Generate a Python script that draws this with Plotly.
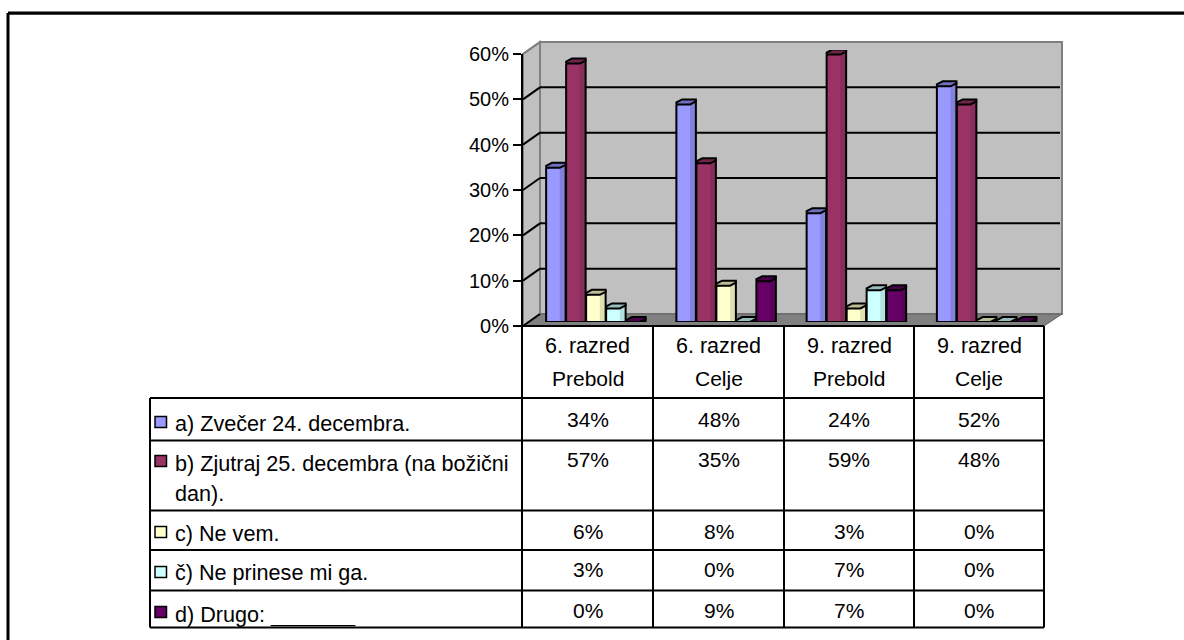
import plotly.graph_objects as go

W, H = 1184, 640
FONT = "Liberation Sans"

categories = [["6. razred", "Prebold"], ["6. razred", "Celje"], ["9. razred", "Prebold"], ["9. razred", "Celje"]]
series_names = [["a) Zvečer 24. decembra."], ["b) Zjutraj 25. decembra (na božični", "dan)."], ["c) Ne vem."], ["č) Ne prinese mi ga."], ["d) Drugo: _______"]]
s_a = [34, 48, 24, 52]
s_b = [57, 35, 59, 48]
s_c = [6, 8, 3, 0]
s_d = [3, 0, 7, 0]
s_e = [0, 9, 7, 0]
all_series = [s_a, s_b, s_c, s_d, s_e]
y_ticks = [0, 10, 20, 30, 40, 50, 60]

front = ["#9999FF", "#993366", "#FFFFCC", "#CCFFFF", "#660066"]
side = ["#8282DC", "#862D59", "#E0E0B3", "#B3E0E0", "#590059"]
cap = ["#7070BC", "#70254B", "#BCBC96", "#96BCBC", "#4B004B"]


def px(x):
    return x / W


def py(y):
    return 1 - y / H


# plane of the bars (pixels)
BX0, BX1, BY0, BY1 = 531, 1052, 322, 50
cat_w = (BX1 - BX0) / 4
pitch = 20 / cat_w
bw = 19.5 / cat_w
dy = 5 / ((BY0 - BY1) / 60)

fig = go.Figure()

# hidden trace so the front axes are built
fig.add_trace(go.Scatter(x=[0], y=[0], xaxis="x2", yaxis="y2", mode="markers",
                         marker=dict(opacity=0), showlegend=False, hoverinfo="skip"))

for k, vals in enumerate(all_series):
    xs = [i + 0.5 + (k - 2.5) * pitch for i in range(4)]
    fig.add_trace(go.Bar(x=xs, y=vals, width=bw, offset=0, showlegend=False,
                         marker=dict(color=front[k], line=dict(width=0))))
    sx, sy, ox, oy, cx, cy = [], [], [], [], [], []
    for x0, v in zip(xs, vals):
        x7, x3, x1 = x0 + 0.7 * bw, x0 + 0.3 * bw, x0 + bw
        sx += [x7, x1, x1, x7, x7, None]
        sy += [v, v + 0.6 * dy, 0, 0, v, None]
        ox += [x0, x0, x1, x1, x0, None]
        oy += [v, 0, 0, v + 0.6 * dy, v, None]
        cx += [x0, x7, x1, x1, x3, x0, x0, None]
        cy += [v, v, v + 0.6 * dy, v + dy, v + dy, v + 0.4 * dy, v, None]
    fig.add_trace(go.Scatter(x=sx, y=sy, mode="lines", fill="toself", fillcolor=side[k],
                             line=dict(width=0), showlegend=False))
    fig.add_trace(go.Scatter(x=ox, y=oy, mode="lines",
                             line=dict(color="black", width=2), showlegend=False))
    fig.add_trace(go.Scatter(x=cx, y=cy, mode="lines", fill="toself", fillcolor=cap[k],
                             line=dict(color="black", width=2), showlegend=False))

shapes = []


def poly(pts, fill, line=None, w=0):
    d = "M " + " L ".join(f"{px(a):.5f},{py(b):.5f}" for a, b in pts) + " Z"
    shapes.append(dict(type="path", path=d, xref="paper", yref="paper", layer="below",
                       fillcolor=fill, line=dict(color=line or fill, width=w)))


def seg(x0, y0, x1, y1, color="black", w=2):
    shapes.append(dict(type="line", xref="paper", yref="paper", layer="below",
                       x0=px(x0), y0=py(y0), x1=px(x1), y1=py(y1), line=dict(color=color, width=w)))


# outer frame (the top rule runs off the right edge, there is no right border)
seg(8, 14.5, 1184, 14.5, color="#808080", w=1)
seg(8, 13, 1184, 13, w=3)
seg(8, 13, 8, 640, w=3)

# walls and floor
poly([(540, 42), (1062, 42), (1062, 314), (540, 314)], "#C0C0C0", "#808080", 2)
poly([(523, 54), (540, 42), (540, 314), (523, 326)], "#C0C0C0", "#808080", 2)
poly([(523, 326), (540, 314), (1062, 314), (1044, 326)], "#808080", "#606060", 1)

# back-wall gridlines and wall ticks
for t in y_ticks:
    front_y = 326 - t * (326 - 54) / 60
    back_y = 314 - t * (314 - 42) / 60
    if t not in (0, 60):
        seg(540, back_y, 1060, back_y)
    seg(523, front_y, 540, back_y, color="black" if t != 60 else "#808080")

# data table
col_x = [522, 653, 784, 914, 1044]
row_y = [326, 398, 440.5, 510.5, 550, 590.5, 627.5]
for x in col_x:
    seg(x, 326, x, 627.5)
seg(150, 398, 150, 627.5)
for i, y in enumerate(row_y):
    seg(150 if i else 522, y, 1044, y)

annotations = []


def text(x, y, s, size, anchor="center"):
    annotations.append(dict(x=px(x), y=py(y), xref="paper", yref="paper", text=s, showarrow=False,
                            xanchor=anchor, yanchor="middle", align="left" if anchor == "left" else "center",
                            borderpad=0, font=dict(family=FONT, size=size, color="black")))


for i, (l1, l2) in enumerate(categories):
    cx = (col_x[i] + col_x[i + 1]) / 2
    text(cx, 346, l1, 21.5)
    text(cx, 378, l2, 21)

label_y = [[423], [463, 493], [533], [572], [614]]
value_y = [419, 459, 531, 569, 610]
swatch_y = [422, 461, 532, 572, 612]
for k, vals in enumerate(all_series):
    for line, ly in zip(series_names[k], label_y[k]):
        text(174, ly, line, 21.6, "left")
    ys = swatch_y[k]
    shapes.append(dict(type="rect", xref="paper", yref="paper", layer="below",
                       x0=px(155), x1=px(166.5), y0=py(ys - 5.5), y1=py(ys + 5.5),
                       fillcolor=front[k], line=dict(color="black", width=1.5)))
    for i, v in enumerate(vals):
        text((col_x[i] + col_x[i + 1]) / 2, value_y[k], f"{v}%", 21)

fig.update_layout(
    width=W, height=H, autosize=False,
    margin=dict(l=0, r=0, t=0, b=0, autoexpand=False),
    paper_bgcolor="white", plot_bgcolor="rgba(0,0,0,0)",
    barmode="overlay", showlegend=False,
    shapes=shapes, annotations=annotations,
    font=dict(family=FONT, size=20, color="black"),
    xaxis=dict(domain=[px(BX0), px(BX1)], range=[0, 4], visible=False, fixedrange=True),
    yaxis=dict(domain=[py(BY0), py(BY1)], range=[0, 60], visible=False, fixedrange=True),
    xaxis2=dict(domain=[px(523), px(1044)], range=[0, 4], visible=False, anchor="y2"),
    yaxis2=dict(domain=[py(326), py(54)], range=[0, 60], anchor="x2", tickvals=y_ticks,
                ticktext=[f"{t}%" for t in y_ticks], ticks="outside", ticklen=8, tickwidth=2,
                tickcolor="black", showline=True, linecolor="black", linewidth=2, showgrid=False,
                zeroline=False, tickfont=dict(family=FONT, size=20, color="black")),
)

fig.write_html("out.html", config={"displayModeBar": False},
               post_script="document.body.style.margin='0';document.body.style.overflow='hidden';")
